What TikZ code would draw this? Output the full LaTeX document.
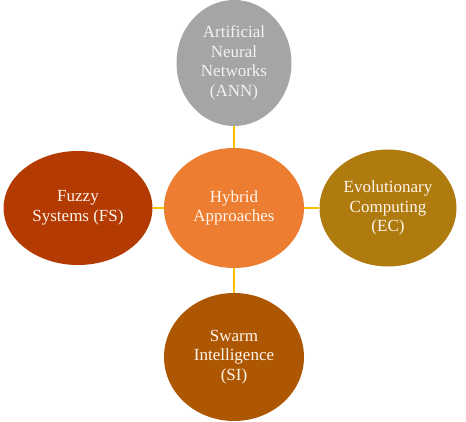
\documentclass[tikz,border=0pt]{standalone}
\usepackage{fontspec}
\setmainfont{Liberation Serif}
\usetikzlibrary{shapes.geometric}
\definecolor{hybridorange}{HTML}{ED7D31}
\definecolor{anngray}{HTML}{A5A5A5}
\definecolor{fsred}{HTML}{B33A02}
\definecolor{ecgold}{HTML}{AF7A0E}
\definecolor{sibrown}{HTML}{AE5703}
\definecolor{linkgold}{HTML}{FFC000}
\definecolor{softtext}{HTML}{FFF6EC}
\begin{document}
\begin{tikzpicture}[x=1pt,y=-1pt,
 every node/.style={font=\fontsize{17}{19.5}\selectfont,text=softtext},
 blob/.style={ellipse,inner sep=0pt,align=center},
 link/.style={draw=linkgold,line width=1.6pt}]
\useasboundingbox (0,0) rectangle (466,422);
\node[blob,fill=hybridorange,minimum width=140pt,minimum height=120pt] (h) at (234,208) {Hybrid\\Approaches};
\node[blob,fill=anngray,minimum width=115pt,minimum height=126pt,text=white!95!black] (ann) at (234,63) {Artificial\\Neural\\Networks\\(ANN)};
\node[blob,fill=fsred,minimum width=149pt,minimum height=114pt] (fs) at (78,208) {Fuzzy\\Systems (FS)};
\node[blob,fill=ecgold,minimum width=137pt,minimum height=117pt] (ec) at (388,208) {Evolutionary\\Computing\\(EC)};
\node[blob,fill=sibrown,minimum width=140pt,minimum height=128pt] (si) at (234,357) {Swarm\\Intelligence\\(SI)};
\draw[link] (h)--(ann);\draw[link] (h)--(fs);
\draw[link] (h)--(ec);\draw[link] (h)--(si);
\end{tikzpicture}
\end{document}
